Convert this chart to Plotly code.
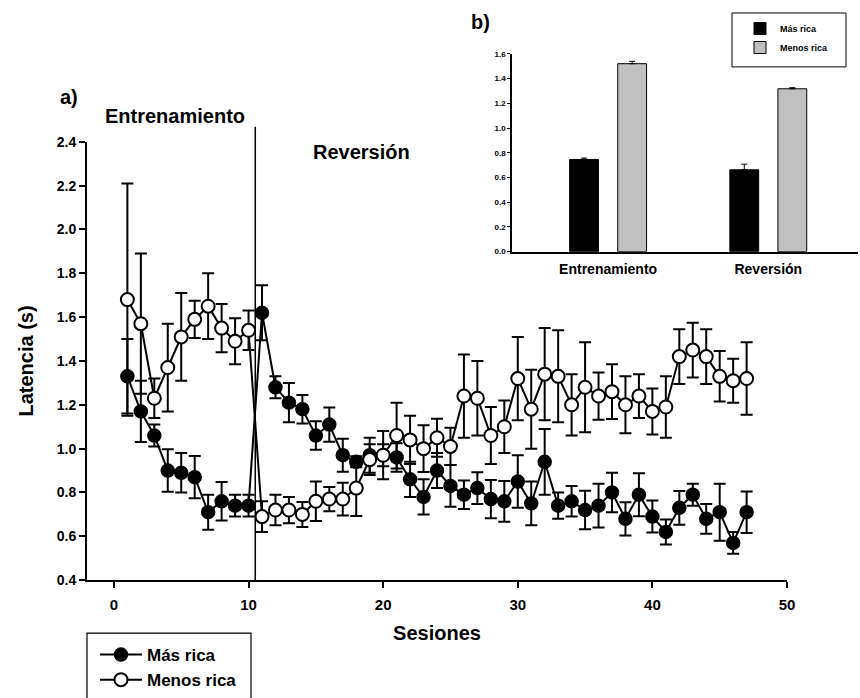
import plotly.graph_objects as go

# ---------------- data ----------------
sessions = list(range(1, 48))
mas_rica = [1.33, 1.17, 1.06, 0.90, 0.89, 0.87, 0.71, 0.76, 0.74, 0.74,
            1.62, 1.28, 1.21, 1.18, 1.06, 1.11, 0.97, 0.94, 0.97, 0.97,
            0.96, 0.86, 0.78, 0.90, 0.83, 0.79, 0.82, 0.77, 0.76, 0.85,
            0.75, 0.94, 0.74, 0.76, 0.72, 0.74, 0.80, 0.68, 0.79, 0.69,
            0.62, 0.73, 0.79, 0.68, 0.71, 0.57, 0.71]
mas_rica_se = [0.17, 0.14, 0.05, 0.097, 0.09, 0.096, 0.08, 0.088, 0.05, 0.05,
               0.125, 0.05, 0.09, 0.065, 0.065, 0.078, 0.075, 0.025, 0.08, 0.05,
               0.065, 0.08, 0.08, 0.08, 0.095, 0.065, 0.072, 0.087, 0.093, 0.12,
               0.10, 0.15, 0.06, 0.07, 0.088, 0.10, 0.09, 0.076, 0.098, 0.073,
               0.057, 0.077, 0.05, 0.068, 0.13, 0.05, 0.095]
menos_rica = [1.68, 1.57, 1.23, 1.37, 1.51, 1.59, 1.65, 1.55, 1.49, 1.54,
              0.69, 0.72, 0.72, 0.70, 0.76, 0.77, 0.77, 0.82, 0.95, 0.97,
              1.06, 1.04, 1.00, 1.05, 1.01, 1.24, 1.23, 1.06, 1.10, 1.32,
              1.18, 1.34, 1.33, 1.20, 1.28, 1.24, 1.26, 1.20, 1.24, 1.17,
              1.19, 1.42, 1.45, 1.42, 1.33, 1.31, 1.32]
menos_rica_se = [0.53, 0.32, 0.09, 0.2, 0.2, 0.085, 0.15, 0.11, 0.105, 0.09,
                 0.07, 0.07, 0.06, 0.057, 0.09, 0.055, 0.075, 0.127, 0.07, 0.11,
                 0.15, 0.11, 0.107, 0.087, 0.085, 0.19, 0.17, 0.13, 0.12, 0.19,
                 0.18, 0.21, 0.21, 0.14, 0.205, 0.108, 0.125, 0.13, 0.1, 0.105,
                 0.14, 0.125, 0.125, 0.125, 0.115, 0.1, 0.165]

phases = ["Entrenamiento", "Reversión"]
bar_mas_rica = [0.746, 0.662]
bar_mas_rica_se = [0.011, 0.046]
bar_menos_rica = [1.521, 1.318]
bar_menos_rica_se = [0.019, 0.009]

y_ticks_main = [0.4, 0.6, 0.8, 1.0, 1.2, 1.4, 1.6, 1.8, 2.0, 2.2, 2.4]
x_ticks_main = [0, 10, 20, 30, 40, 50]
y_ticks_inset = [0.0, 0.2, 0.4, 0.6, 0.8, 1.0, 1.2, 1.4, 1.6]
phase_change = 10.5

# ---------------- figure ----------------
W, H = 860, 698
FONT = "Arial, Liberation Sans, sans-serif"


def px_x(p):
    return p / W


def px_y(p):
    return (H - p) / H


fig = go.Figure()

fig.add_trace(go.Scatter(
    x=sessions, y=mas_rica, name="Más rica", mode="lines+markers",
    line=dict(color="black", width=2),
    marker=dict(symbol="circle", size=13, color="black",
                line=dict(color="black", width=1.5)),
    error_y=dict(type="data", array=mas_rica_se, visible=True,
                 color="black", thickness=2, width=6),
    xaxis="x", yaxis="y", legend="legend"))

fig.add_trace(go.Scatter(
    x=sessions, y=menos_rica, name="Menos rica", mode="lines+markers",
    line=dict(color="black", width=2),
    marker=dict(symbol="circle", size=13, color="white",
                line=dict(color="black", width=2)),
    error_y=dict(type="data", array=menos_rica_se, visible=True,
                 color="black", thickness=2, width=6),
    xaxis="x", yaxis="y", legend="legend"))

fig.add_trace(go.Bar(
    x=phases, y=bar_mas_rica, name="Más rica",
    marker=dict(color="black", line=dict(color="black", width=1)),
    error_y=dict(type="data", array=bar_mas_rica_se,
                 arrayminus=[0] * len(bar_mas_rica_se), visible=True,
                 color="black", thickness=1, width=3),
    xaxis="x2", yaxis="y2", legend="legend2"))

fig.add_trace(go.Bar(
    x=phases, y=bar_menos_rica, name="Menos rica",
    marker=dict(color="#c0c0c0", line=dict(color="black", width=1)),
    error_y=dict(type="data", array=bar_menos_rica_se,
                 arrayminus=[0] * len(bar_menos_rica_se), visible=True,
                 color="black", thickness=1, width=3),
    xaxis="x2", yaxis="y2", legend="legend2"))

axis_common = dict(showgrid=False, zeroline=False, showline=True,
                   linecolor="black", linewidth=2, ticks="outside",
                   tickcolor="black", tickwidth=2, automargin=False)

fig.update_layout(
    width=W, height=H,
    margin=dict(l=0, r=0, t=0, b=0),
    paper_bgcolor="white", plot_bgcolor="white",
    font=dict(family=FONT, color="black"),
    barmode="group", bargap=0.4, bargroupgap=0.4,
    xaxis=dict(**axis_common, domain=[px_x(87), px_x(787)],
               range=[-2, 50], tickvals=x_ticks_main, ticklen=6,
               ticklabelstandoff=4,
               tickfont=dict(size=15, weight="bold"),
               title=dict(text="Sesiones", font=dict(size=20, weight="bold"),
                          standoff=14),
               anchor="y"),
    yaxis=dict(**axis_common, domain=[px_y(581), px_y(142)],
               range=[0.4, 2.4], tickvals=y_ticks_main, tickformat=".1f",
               ticklen=6,
               tickfont=dict(size=14, weight="bold"),
               title=dict(text="Latencia (s)", font=dict(size=20, weight="bold"),
                          standoff=18),
               anchor="x"),
    xaxis2=dict(showgrid=False, zeroline=False, showline=True,
                linecolor="black", linewidth=1.5, ticks="", automargin=False,
                domain=[px_x(512), px_x(858)], range=[-0.6, 1.56],
                ticklabelstandoff=4,
                tickfont=dict(size=14, weight="bold"), anchor="y2"),
    yaxis2=dict(showgrid=False, zeroline=False, showline=True,
                linecolor="black", linewidth=1.5, ticks="outside",
                tickcolor="black", tickwidth=1, ticklen=3, automargin=False,
                domain=[px_y(252), px_y(54)], range=[0, 1.6],
                tickvals=y_ticks_inset, tickformat=".1f",
                tickfont=dict(size=8, weight="bold"), anchor="x2"),
    legend=dict(x=px_x(95), y=px_y(638), xanchor="left", yanchor="top",
                borderwidth=0, bgcolor="rgba(0,0,0,0)", itemwidth=42,
                font=dict(size=17, weight="bold"), tracegroupgap=0),
    legend2=dict(x=px_x(740), y=px_y(14), xanchor="left", yanchor="top",
                 borderwidth=0, bgcolor="rgba(0,0,0,0)",
                 font=dict(size=9, weight="bold"), tracegroupgap=0),
)

# legend frames
fig.add_shape(type="rect", xref="paper", yref="paper",
              x0=px_x(87), x1=px_x(251), y0=px_y(700), y1=px_y(634),
              line=dict(color="black", width=1.2), fillcolor="rgba(0,0,0,0)")
fig.add_shape(type="rect", xref="paper", yref="paper",
              x0=px_x(732), x1=px_x(846), y0=px_y(67), y1=px_y(13),
              line=dict(color="black", width=1), fillcolor="rgba(0,0,0,0)")

# phase divider line
fig.add_shape(type="line", xref="x", yref="paper",
              x0=phase_change, x1=phase_change, y0=px_y(581), y1=px_y(127),
              line=dict(color="black", width=1.5))

ann_font = dict(family=FONT, color="black", weight="bold")
fig.add_annotation(text="a)", x=px_x(58), y=px_y(97), xref="paper", yref="paper",
                   xanchor="left", yanchor="middle", showarrow=False,
                   font=dict(**ann_font, size=20))
fig.add_annotation(text="Entrenamiento", x=px_x(103), y=px_y(116), xref="paper",
                   yref="paper", xanchor="left", yanchor="middle", showarrow=False,
                   font=dict(**ann_font, size=20))
fig.add_annotation(text="Reversión", x=px_x(311), y=px_y(152), xref="paper",
                   yref="paper", xanchor="left", yanchor="middle", showarrow=False,
                   font=dict(**ann_font, size=20))
fig.add_annotation(text="b)", x=px_x(469), y=px_y(22), xref="paper", yref="paper",
                   xanchor="left", yanchor="middle", showarrow=False,
                   font=dict(**ann_font, size=20))

fig.write_html("out.html")
